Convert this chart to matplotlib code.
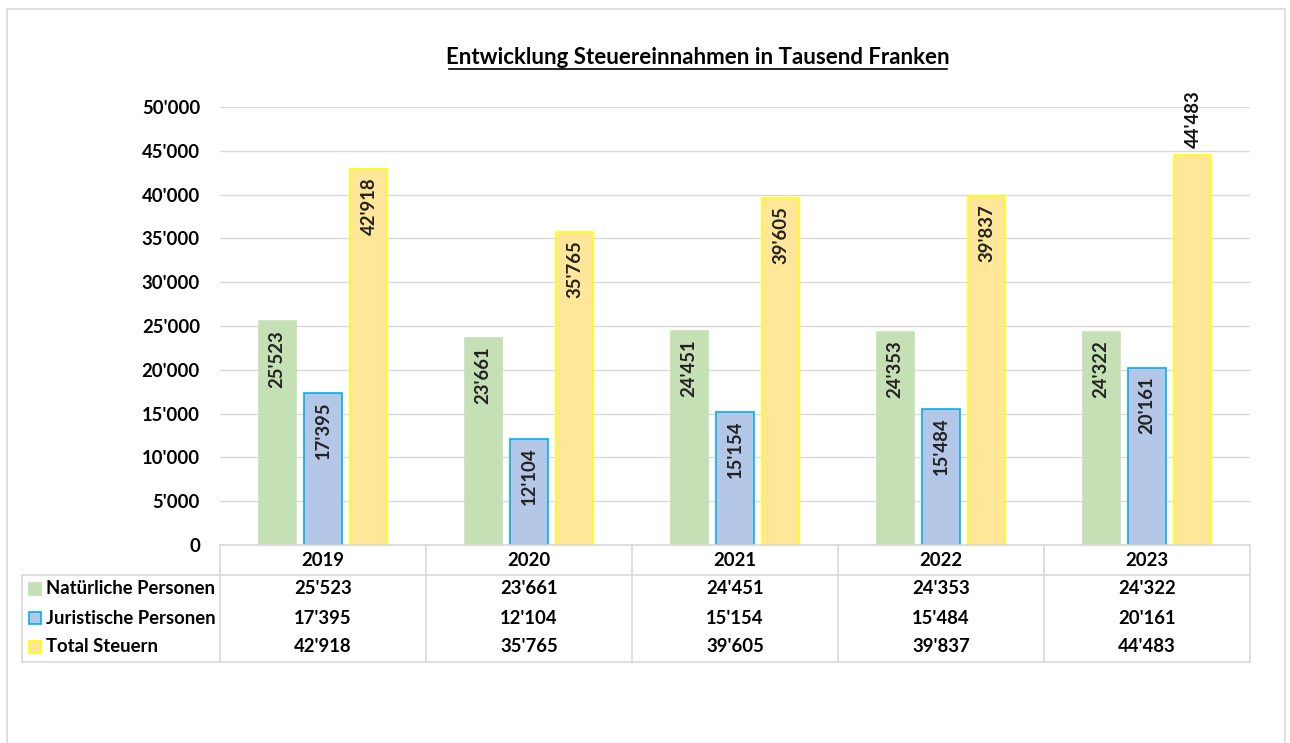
import matplotlib
matplotlib.use('Agg')
import matplotlib.pyplot as plt
from matplotlib.lines import Line2D
from matplotlib.patches import Rectangle
from matplotlib.transforms import blended_transform_factory
from matplotlib.ticker import FuncFormatter

plt.rcParams['font.family'] = ['Lato', 'DejaVu Sans']

years = ['2019', '2020', '2021', '2022', '2023']
series_names = ['Natürliche Personen', 'Juristische Personen', 'Total Steuern']
natuerliche = [25523, 23661, 24451, 24353, 24322]
juristische = [17395, 12104, 15154, 15484, 20161]
total = [42918, 35765, 39605, 39837, 44483]

series = [natuerliche, juristische, total]
faces = ['#C5E0B4', '#B4C7E7', '#FFE699']
edges = ['#C5E0B4', '#00B0F0', '#FFFF00']
grid_col = '#D9D9D9'
fs = 13.3

W, H = 1290, 743
fig = plt.figure(figsize=(W / 100, H / 100), dpi=100)


def fx(px):
    return px / W


def fy(py):
    return 1 - py / H


# outer chart border
fig.patches.append(Rectangle((fx(7), fy(760)), fx(1285) - fx(7), fy(9) - fy(760),
                             transform=fig.transFigure, fill=False,
                             edgecolor='#D9D9D9', lw=1.2))

left, right, top, bottom = 220, 1250, 107, 545
ax = fig.add_axes([fx(left), fy(bottom), fx(right) - fx(left), fy(top) - fy(bottom)])
ax.set_xlim(-0.5, len(years) - 0.5)
ax.set_ylim(0, 50000)
ax.set_yticks(range(0, 50001, 5000))
ax.yaxis.set_major_formatter(FuncFormatter(lambda v, p: f"{int(v):,}".replace(',', "'")))
ax.tick_params(axis='y', length=0, pad=14.4, labelsize=fs)
for lab in ax.get_yticklabels():
    lab.set_fontweight('bold')
ax.set_xticks([])
for s in ax.spines.values():
    s.set_visible(False)
ax.grid(axis='y', color=grid_col, lw=1)
ax.set_axisbelow(True)

offsets = [-0.223, 0, 0.223]
bw = 0.18
xs = list(range(len(years)))
for vals, off, fc, ec in zip(series, offsets, faces, edges):
    pos = [x + off for x in xs]
    ax.bar(pos, vals, width=bw, color=fc, edgecolor=ec, lw=1.2, zorder=2)
    for x, v in zip(pos, vals):
        txt = f"{v:,}".replace(',', "'")
        if v > 44000:
            ax.annotate(txt, (x, v), xytext=(0, 5), textcoords='offset points',
                        rotation=90, ha='center', va='bottom', fontsize=fs,
                        fontweight='bold', color='#111111')
        else:
            ax.annotate(txt, (x, v), xytext=(0, -6), textcoords='offset points',
                        rotation=90, ha='center', va='top', fontsize=fs,
                        fontweight='bold', color='#222222')

# title
fig.text(fx(698), fy(57), 'Entwicklung Steuereinnahmen in Tausend Franken',
         ha='center', va='center', fontsize=16, fontweight='bold')
fig.add_artist(Line2D([fx(449), fx(947)], [fy(69), fy(69)], color='black', lw=1.2))

# data table
def hline(y, x0, x1):
    fig.add_artist(Line2D([fx(x0), fx(x1)], [fy(y), fy(y)], color=grid_col, lw=1.2))


def vline(x, y0, y1):
    fig.add_artist(Line2D([fx(x), fx(x)], [fy(y0), fy(y1)], color=grid_col, lw=1.2))


hline(545, left, right)
hline(575, 22, right)
hline(662, 22, right)
vline(22, 575, 662)
col_w = (right - left) / len(years)
for i in range(len(years) + 1):
    vline(left + i * col_w, 545, 662)

tr = blended_transform_factory(ax.transData, fig.transFigure)
for x, yr in zip(xs, years):
    fig.text(x, fy(560), yr, transform=tr, ha='center', va='center',
             fontsize=fs, fontweight='bold')

row_y = [589, 618, 647]
for name, vals, fc, ec, ry in zip(series_names, series, faces, edges, row_y):
    fig.patches.append(Rectangle((fx(29), fy(ry + 6)), fx(12), fy(ry - 6) - fy(ry + 6),
                                 transform=fig.transFigure, facecolor=fc,
                                 edgecolor=ec, lw=1.2))
    fig.text(fx(46), fy(ry), name, ha='left', va='center', fontsize=fs,
             fontweight='bold')
    for x, v in zip(xs, vals):
        fig.text(x, fy(ry), f"{v:,}".replace(',', "'"), transform=tr,
                 ha='center', va='center', fontsize=fs, fontweight='bold')

fig.savefig('out.png', dpi=100, facecolor='white')
